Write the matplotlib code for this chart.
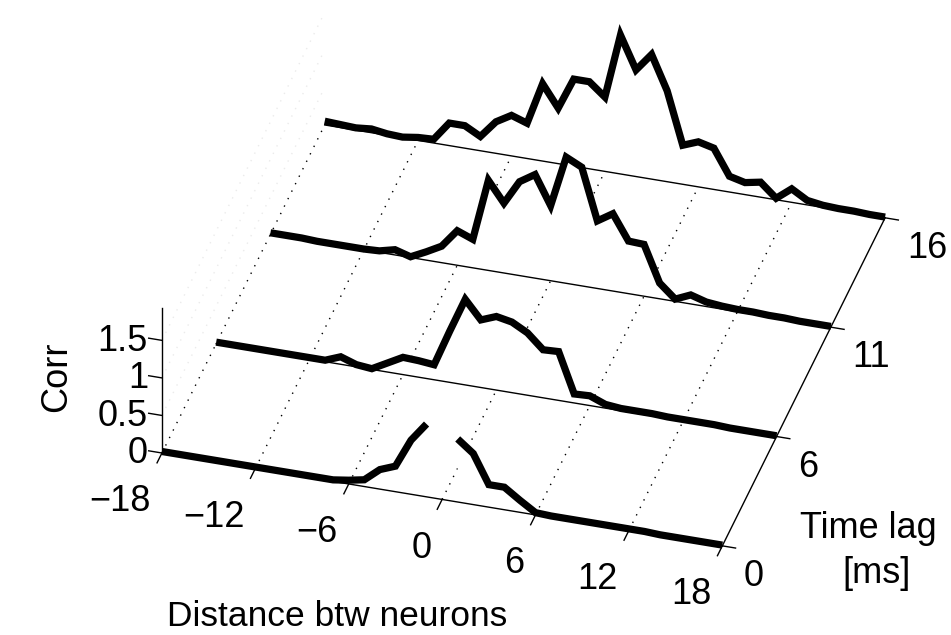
import numpy as np
import matplotlib
matplotlib.use('Agg')
import matplotlib.pyplot as plt
from mpl_toolkits.mplot3d.art3d import Poly3DCollection

plt.rcParams['font.family'] = ['Liberation Sans', 'DejaVu Sans']
plt.rcParams['font.size'] = 26

# x: distance between neurons, rows: time lags
distance = np.arange(-18, 19)
dist_ticks = [-18, -12, -6, 0, 6, 12, 18]
lag_labels = ['0', '6', '11', '16']
corr_ticks = [0, 0.5, 1, 1.5]
corr_labels = ['0', '0.5', '1', '1.5']

nan = np.nan
corr_lag0 = [0.02, 0.02, 0.02, 0.02, 0.02, 0.02, 0.02, 0.02, 0.02, 0.02, 0.02, 0.02,
             0.05, 0.09, 0.26, 0.34, 0.72, 0.97, nan, 0.84, 0.68, 0.30, 0.30, 0.16, 0.03,
             0.02, 0.02, 0.02, 0.02, 0.02, 0.02, 0.02, 0.01, 0.01, 0.01, 0.01, 0.01]
corr_lag6 = [0.02, 0.02, 0.02, 0.02, 0.02, 0.02, 0.02, 0.02,
             0.10, 0.03, 0.01, 0.12, 0.23, 0.22, 0.20, 0.68, 1.14, 0.90, 0.98, 0.94,
             0.83, 0.64, 0.65, 0.12, 0.13, 0.05, 0.03,
             0.03, 0.03, 0.02, 0.02, 0.02, 0.02, 0.01, 0.01, 0.01, 0.01]
corr_lag11 = [0.02, 0.02, 0.02, 0.01, 0.01, 0.01, 0.01, 0.02, 0.07, 0.01, 0.11, 0.22,
              0.46, 0.38, 1.20, 0.93, 1.25, 1.38, 1.00, 1.68, 1.58, 0.90, 1.03, 0.70,
              0.69, 0.21, 0.03, 0.12, 0.06, 0.04, 0.03, 0.03, 0.02, 0.02, 0.01, 0.01, 0.01]
corr_lag16 = [0.05, 0.04, 0.03, 0.05, 0.02, 0.01, 0.04, 0.05, 0.30, 0.30, 0.19, 0.42,
              0.54, 0.47, 1.03, 0.74, 1.16, 1.16, 0.99, 1.85, 1.42, 1.66, 1.21, 0.52,
              0.60, 0.55, 0.21, 0.16, 0.20, 0.02, 0.18, 0.06, 0.03, 0.02, 0.02, 0.01, 0.01]
rows = [corr_lag0, corr_lag6, corr_lag11, corr_lag16]

zmax = 1.93
W, H = 951, 635

fig = plt.figure(figsize=(W / 100, H / 100), dpi=100)
ax = fig.add_subplot(projection='3d', computed_zorder=False, proj_type='ortho')
ax.set_box_aspect((1, 1.013, 0.3046))
ax.view_init(elev=35.3, azim=-74)
ax.set_axis_off()


def to_display(pts):
    pts = np.asarray(pts, float)
    hom = ax.get_proj() @ np.column_stack([pts, np.ones(len(pts))]).T
    return ax.transData.transform(np.column_stack([hom[0] / hom[3], hom[1] / hom[3]]))


dots = (0, (1, 5))
# grid on the floor and the faint one on the left wall
for x in dist_ticks[:-1]:
    ax.plot([x, x], [0, 3], [0, 0], color='k', lw=1, ls=dots, zorder=1)
for z in corr_ticks[1:]:
    ax.plot([-18, -18], [0, 3], [z, z], color='#ebebeb', lw=1, ls=dots, zorder=1)

# waterfall, back row first
for i in reversed(range(len(rows))):
    zc = np.array(rows[i], dtype=float)
    zo = 5 - i
    idx = np.flatnonzero(np.isfinite(zc))
    runs = np.split(idx, np.flatnonzero(np.diff(idx) > 1) + 1)
    for run in runs:
        xs = distance[run]
        verts = [(xs[0], i, 0)] + [(x, i, z) for x, z in zip(xs, zc[run])] + [(xs[-1], i, 0)]
        poly = Poly3DCollection([verts], facecolor='white', edgecolor='none')
        poly.set_zorder(zo)
        ax.add_collection3d(poly, autolim=False)
    ax.plot([-18, 18], [i, i], [0, 0], color='k', lw=1.0, zorder=zo + 0.1)
    ax.plot(distance, np.full(len(distance), i), zc, color='k', lw=5.2,
            solid_joinstyle='miter', solid_capstyle='butt', zorder=zo + 0.2)

# axes lines and tick marks
ax.plot([-18, -18], [0, 0], [0, zmax], color='k', lw=1, zorder=10)
ax.plot([18, 18], [0, 3], [0, 0], color='k', lw=1, zorder=10)
labels = []
for x in dist_ticks:
    ax.plot([x, x], [0, -0.09], [0, 0], color='k', lw=1, zorder=10)
    labels.append(((x, -0.2, -0.36), str(x).replace('-', '\u2212'), 'right'))
for z, lab in zip(corr_ticks, corr_labels):
    ax.plot([-18, -18.85], [0, 0], [z, z], color='k', lw=1, zorder=10)
    labels.append(((-18.9, 0, z - 0.04), lab, 'right'))
for i, lab in enumerate(lag_labels):
    ax.plot([18, 18.85], [i, i], [0, 0], color='k', lw=1, zorder=10)
    labels.append(((19.4, i, -0.36), lab, 'left'))

ax.set_xlim(-18, 18)
ax.set_ylim(0, 3)
ax.set_zlim(0, zmax)

# place the 3d box so its corners land where they are in the picture
fig.canvas.draw()
ref3d = [[-18, 0, 0], [18, 0, 0], [18, 3, 0], [-18, 3, 0], [-18, 0, 1.5]]
ref_px = np.array([[162, 453], [722, 546], [885, 218], [325, 124], [162, 341]], float)
target = np.column_stack([ref_px[:, 0], H - ref_px[:, 1]])
bb = ax.bbox
g = (to_display(ref3d) - [bb.x0, bb.y0]) / bb.width
A = np.zeros((2 * len(g), 3))
A[0::2, 0] = g[:, 0]
A[0::2, 1] = 1
A[1::2, 0] = g[:, 1]
A[1::2, 2] = 1
S, ox, oy = np.linalg.lstsq(A, target.reshape(-1), rcond=None)[0]
ax.set_position([ox / W, oy / H, S / W, S / H])

# tick labels at the projected tick positions
anchors = to_display([p for p, _, _ in labels])
for (px, py), (_, text, ha) in zip(anchors, labels):
    fig.text(px / W, py / H, text, ha=ha, va='center')

fig.text(57 / W, 1 - 377 / H, 'Corr', rotation=90, ha='center', va='center')
fig.text(337 / W, 1 - 626 / H, 'Distance btw neurons', ha='center', va='baseline', fontsize=25.5)
fig.text(800 / W, 1 - 538 / H, 'Time lag', ha='left', va='baseline')
fig.text(877 / W, 1 - 583 / H, '[ms]', ha='center', va='baseline')

fig.savefig('out.png', dpi=100)
